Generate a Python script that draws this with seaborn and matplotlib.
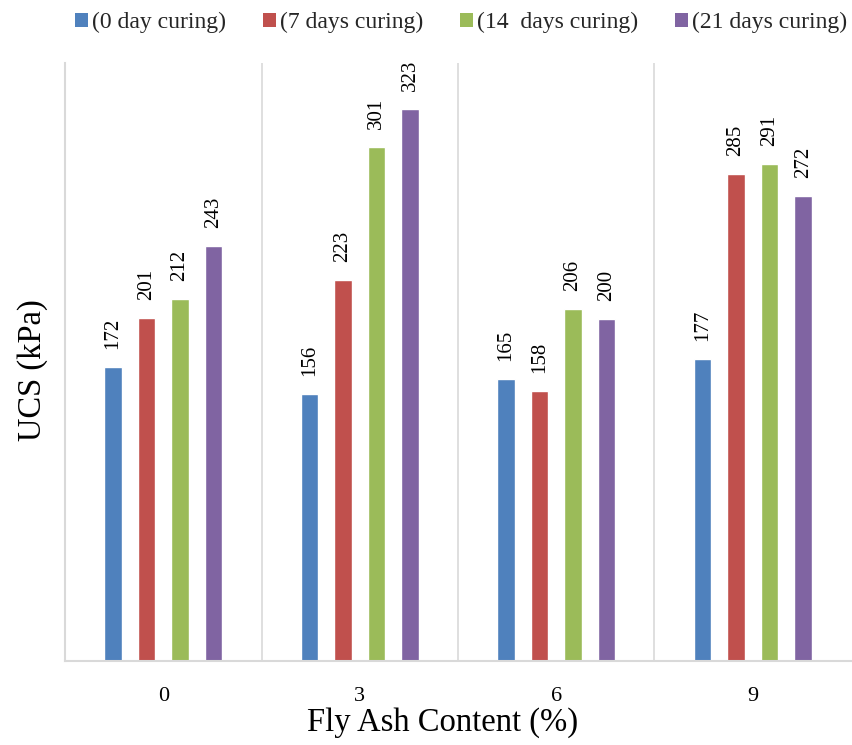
import matplotlib
matplotlib.use("Agg")
import matplotlib.pyplot as plt
import seaborn as sns
import pandas as pd
from matplotlib.patches import Patch

fly_ash = ["0", "3", "6", "9"]
series = ["(0 day curing)", "(7 days curing)", "(14  days curing)", "(21 days curing)"]
ucs_0 = [172, 156, 165, 177]
ucs_7 = [201, 223, 158, 285]
ucs_14 = [212, 301, 206, 291]
ucs_21 = [243, 323, 200, 272]
colors = ["#4F81BD", "#C0504D", "#9BBB59", "#8064A2"]

rows = []
for s, vals in zip(series, [ucs_0, ucs_7, ucs_14, ucs_21]):
    for c, v in zip(fly_ash, vals):
        rows.append({"Fly Ash Content (%)": c, "UCS (kPa)": v, "Curing": s})
df = pd.DataFrame(rows)

sns.set_theme(style="white")
plt.rcParams["font.family"] = ["Liberation Serif", "DejaVu Serif"]

fig = plt.figure(figsize=(8.52, 7.45), dpi=100)
ax = fig.add_axes([0.0763, 0.1128, 0.9225, 0.8026])

sns.barplot(data=df, x="Fly Ash Content (%)", y="UCS (kPa)", hue="Curing",
            order=fly_ash, hue_order=series, palette=colors,
            width=0.685, gap=0.48, errorbar=None, saturation=1,
            legend=False, ax=ax)

for container in ax.containers:
    ax.bar_label(container, fmt="%d", rotation=90, padding=13,
                 fontsize=15, color="black")

ax.set_ylim(0, 350)
ax.set_xlim(-0.5, 3.5)
ax.set_yticks([])
for b in [0.5, 1.5, 2.5]:
    ax.axvline(b, color="#d9d9d9", lw=1.2, zorder=0)
for side in ["top", "right"]:
    ax.spines[side].set_visible(False)
for side in ["left", "bottom"]:
    ax.spines[side].set_color("#d9d9d9")
    ax.spines[side].set_linewidth(1.5)

ax.tick_params(axis="x", length=0, pad=19, labelsize=16, colors="black")
ax.set_xlabel("Fly Ash Content (%)", fontsize=23.5, color="black")
ax.set_ylabel("UCS (kPa)", fontsize=23.5, color="black")
ax.xaxis.set_label_coords(0.48, -0.077)
ax.yaxis.set_label_coords(-0.022, 0.487)

handles = [Patch(facecolor=c, edgecolor="none") for c in colors]
fig.legend(handles, series, loc="upper center", bbox_to_anchor=(0.541, 1.012),
           ncol=4, frameon=False, fontsize=17, handlelength=0.55,
           handleheight=0.55, handletextpad=0.15, columnspacing=1.58)

fig.savefig("out.png", dpi=100)
